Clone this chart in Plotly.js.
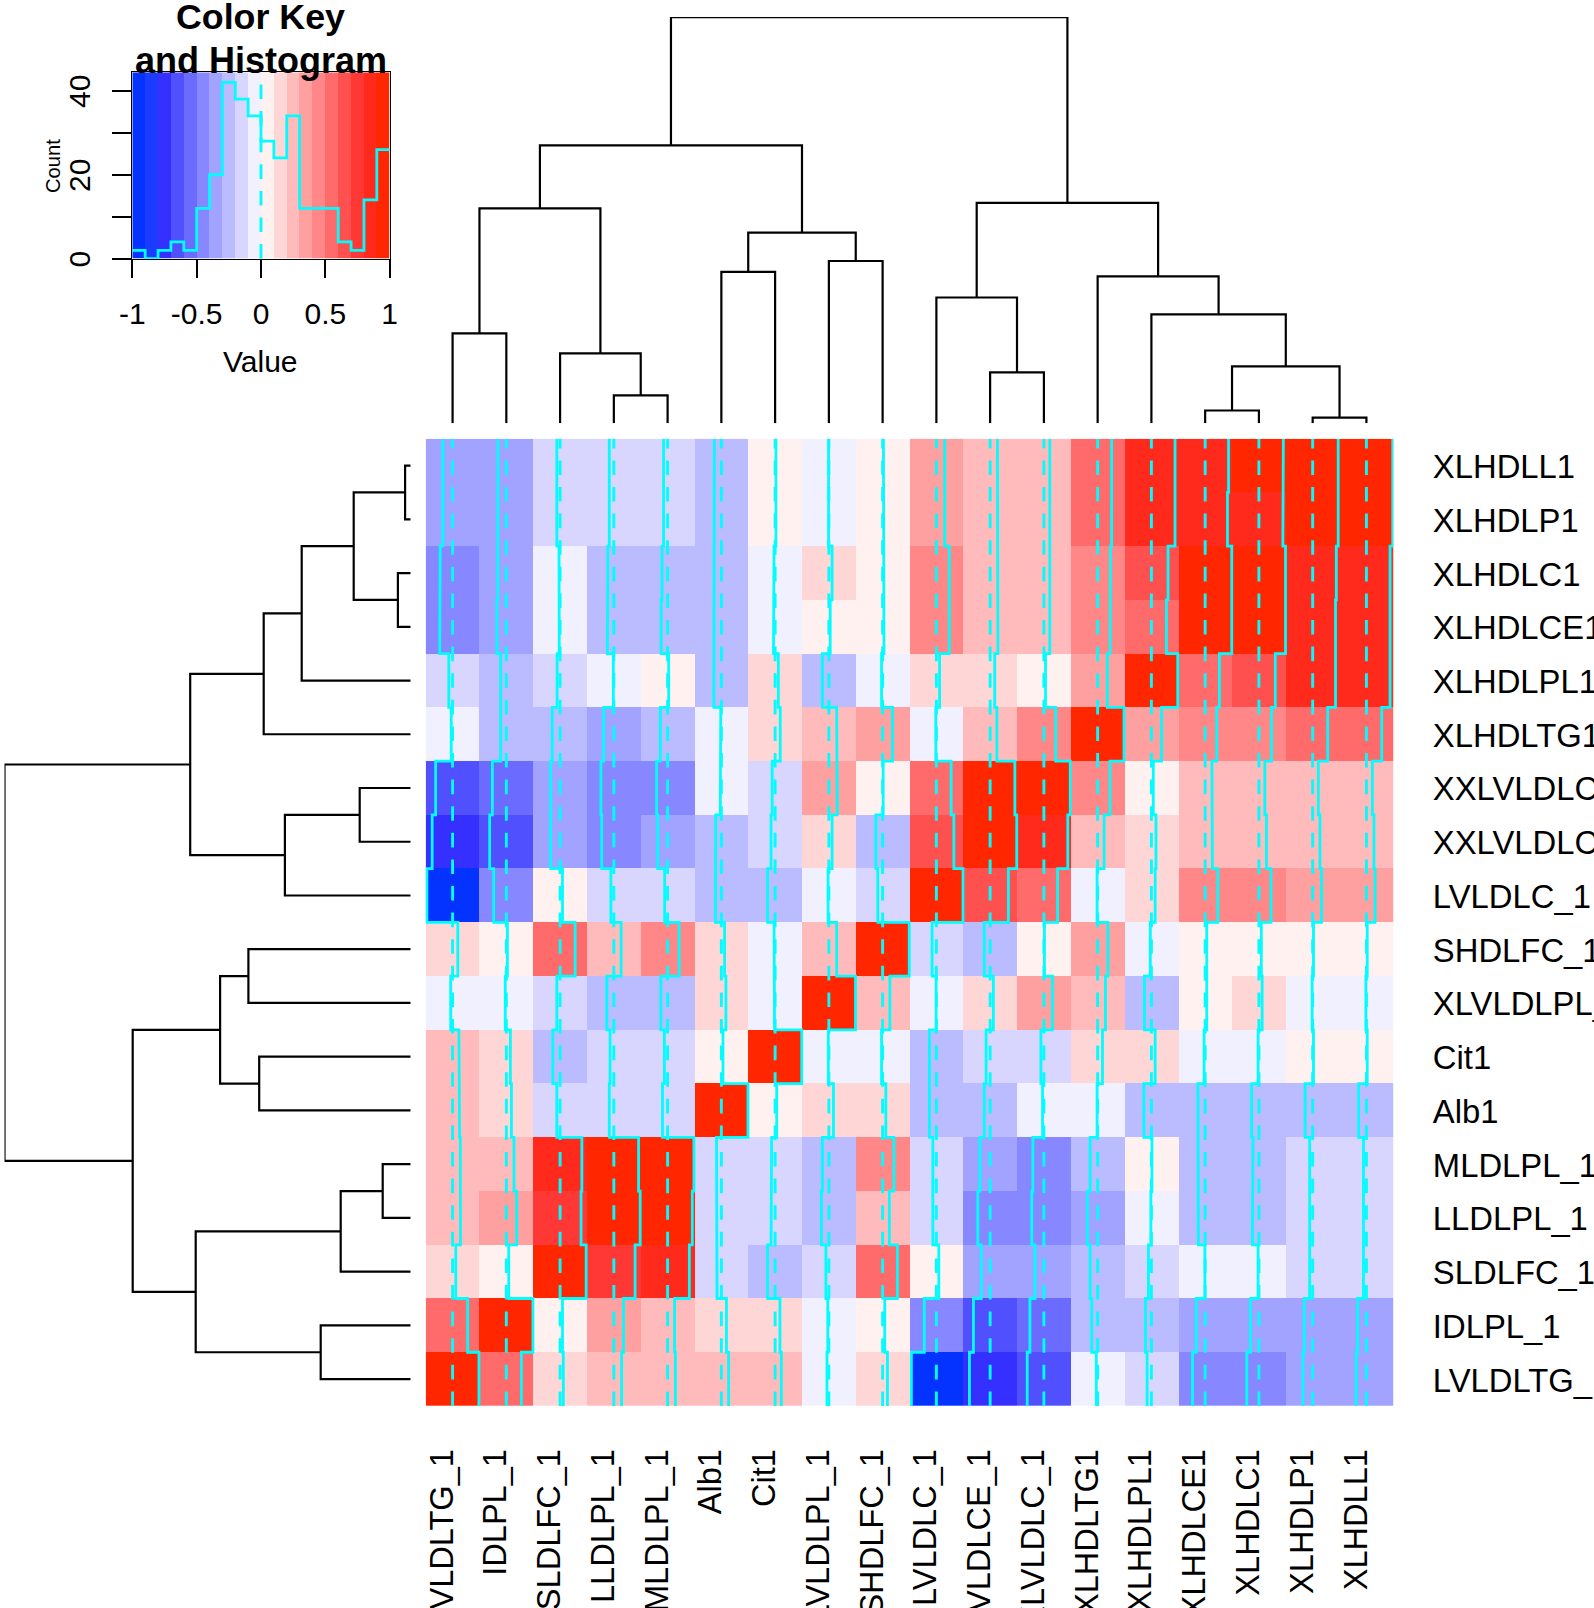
<!DOCTYPE html>
<html>
<head>
<meta charset="utf-8">
<script src="https://cdn.plot.ly/plotly-3.0.1.min.js"></script>
<style>html,body{margin:0;padding:0;background:#fff;overflow:hidden}#chart{width:1594px;height:1608px}</style>
</head>
<body>
<div id="chart"></div>
<script>
// ---------- data ----------
const columnLabels = ["LVLDLTG_1","IDLPL_1","SLDLFC_1","LLDLPL_1","MLDLPL_1","Alb1","Cit1","XLVLDLPL_1","SHDLFC_1","LVLDLC_1","XXLVLDLCE_1","XXLVLDLC_1","XLHDLTG1","XLHDLPL1","XLHDLCE1","XLHDLC1","XLHDLP1","XLHDLL1"];
const rowLabels = ["XLHDLL1","XLHDLP1","XLHDLC1","XLHDLCE1","XLHDLPL1","XLHDLTG1","XXLVLDLC_1","XXLVLDLCE_1","LVLDLC_1","SHDLFC_1","XLVLDLPL_1","Cit1","Alb1","MLDLPL_1","LLDLPL_1","SLDLFC_1","IDLPL_1","LVLDLTG_1"];
const correlations = [
 [-.36,-.31,-.12,-.17,-.15,-.26,.03,-.01,.03,.31,.27,.22,.52,.88,.87,.91,.95,.98],
 [-.36,-.31,-.12,-.17,-.15,-.26,.03,-.01,.03,.31,.27,.22,.52,.88,.83,.89,.95,.98],
 [-.46,-.32,-.04,-.22,-.21,-.26,-.04,.12,.05,.48,.28,.22,.48,.62,.99,.99,.88,.88],
 [-.48,-.35,-.03,-.24,-.24,-.26,-.06,.05,.05,.48,.29,.22,.46,.56,.99,.99,.85,.86],
 [-.14,-.21,-.11,-.02,.04,-.28,.12,-.24,-.04,.12,.17,.06,.36,.98,.53,.61,.85,.88],
 [-.05,-.21,-.29,-.38,-.27,-.02,.19,.29,.37,-.02,.25,.44,.98,.38,.43,.47,.56,.57],
 [-.63,-.52,-.35,-.48,-.41,-.04,-.11,.31,.02,.55,.92,.98,.46,.07,.25,.22,.21,.22],
 [-.76,-.62,-.35,-.45,-.37,-.21,-.15,.12,-.25,.65,.99,.89,.24,.17,.27,.28,.27,.28],
 [-.955,-.47,.09,-.11,-.11,-.22,-.28,-.03,-.18,.99,.68,.51,-.02,.14,.47,.45,.33,.32],
 [.195,.04,.56,.27,.43,.12,-.04,.29,.99,-.16,-.22,.02,.38,-.04,.06,.09,.03,.03],
 [-.07,-.04,-.12,-.26,-.25,.17,-.02,.99,.27,-.01,.12,.32,.29,-.26,.06,.12,-.02,-.02],
 [.235,.15,-.27,-.14,-.12,.06,.99,-.02,-.04,-.26,-.15,-.11,.18,.14,-.04,-.03,.03,.03],
 [.26,.19,-.12,-.17,-.19,.99,.06,.17,.12,-.26,-.22,-.05,-.02,-.28,-.27,-.27,-.28,-.29],
 [.285,.285,.81,.92,.98,-.18,-.13,-.24,.42,-.13,-.38,-.41,-.28,.02,-.25,-.22,-.11,-.11],
 [.295,.385,.78,.98,.92,-.18,-.15,-.28,.25,-.13,-.46,-.45,-.38,-.02,-.25,-.24,-.12,-.11],
 [.12,.09,.97,.79,.81,-.16,-.28,-.11,.55,.09,-.33,-.33,-.28,-.11,-.01,-.03,-.11,-.11],
 [.56,.99,.09,.36,.26,.19,.18,-.04,.08,-.45,-.62,-.52,-.22,-.22,-.33,-.31,-.31,-.33],
 [.98,.56,.12,.29,.29,.27,.23,-.07,.18,-.93,-.77,-.62,-.05,-.16,-.47,-.45,-.36,-.38]
];
// clustering tree over column positions: [left, right, merge height]
const dendrogram = [
 [[[1,2,90],[3,[4,5,28],70],215],[[6,7,151.5],[8,9,162.3],190.6],278],
 [[10,[11,12,51],125.8],[13,[14,[[15,16,12.8],[17,18,5.6],57],109],147],220.5],
 406.2];
const keyBreaks = [-1,-.9,-.8,-.7,-.6,-.5,-.4,-.3,-.2,-.1,0,.1,.2,.3,.4,.5,.6,.7,.8,.9,1];
const keyMids = [-.95,-.85,-.75,-.65,-.55,-.45,-.35,-.25,-.15,-.05,.05,.15,.25,.35,.45,.55,.65,.75,.85,.95];
const histCounts = [2,0,2,4,2,12,20,42,38,34,28,24,34,12,12,12,4,2,14,26];
const palette = ["#0432ff","#1b3cff","#3530ff","#5050ff","#6b6bff","#8787ff","#a2a2ff","#bbbbff","#d8d6ff","#f1f0ff","#fff1f0","#ffd6d6","#ffbbbb","#ffa0a0","#ff8787","#ff6b6b","#ff5050","#ff3735","#ff2a1b","#ff2600"];

// ---------- geometry ----------
const W = 1594, H = 1608;
const dx = (a,b)=>[a/W,b/W];
const dy = (top,bottom)=>[1-bottom/H,1-top/H];
const heatX = dx(425.7,1393.3), heatY = dy(438.7,1406);
const labelX = dx(415.2,1382.8);
const FONT = "Liberation Sans, Arial, sans-serif";
const CYAN = "#00fdff";
const CLEAR = "rgba(0,0,0,0)";

const n = columnLabels.length;
const idx = Array.from({length:n},(_,i)=>i+1);
const colorscale = [];
palette.forEach((c,i)=>{colorscale.push([i/20,c]);colorscale.push([(i+1)/20,c]);});

// solid trace lines and dashed centre lines
const tx=[],ty=[],cx=[],cy=[];
for(let j=0;j<n;j++){
  for(let i=0;i<n;i++){
    const off = correlations[i][j]/2;
    tx.push(j+1+off,j+1+off); ty.push(i+.5,i+1.5);
  }
  tx.push(null);ty.push(null);
  cx.push(j+1,j+1,null); cy.push(n+.5,.5,null);
}
// dendrogram segments
const dpos=[],dh=[];
function walk(node){
  if(typeof node==="number") return {p:node,h:0};
  const l=walk(node[0]), r=walk(node[1]), h=node[2];
  dpos.push(l.p,l.p,r.p,r.p,null); dh.push(l.h,h,h,r.h,null);
  return {p:(l.p+r.p)/2,h};
}
walk(dendrogram);
const rowPos = dpos.map(p=>p===null?null:n+1-p);
// histogram step
const hx=[],hy=[];
histCounts.forEach((c,i)=>{hx.push(keyBreaks[i],keyBreaks[i+1]);hy.push(c,c);});
const keyTop = 44.4;

const data = [
 {type:"heatmap",x:idx,y:idx,z:correlations,zmin:-1,zmax:1,colorscale,showscale:false,hoverinfo:"skip",xaxis:"x",yaxis:"y"},
 {type:"scatter",mode:"lines",x:cx,y:cy,line:{color:CYAN,width:2.9,dash:"14.6px,12px"},cliponaxis:false,hoverinfo:"skip",xaxis:"x",yaxis:"y"},
 {type:"scatter",mode:"lines",x:tx,y:ty,line:{color:CYAN,width:2.8},cliponaxis:false,hoverinfo:"skip",xaxis:"x",yaxis:"y"},
 {type:"scatter",mode:"lines",x:dpos,y:dh,line:{color:"#000",width:2.2},cliponaxis:false,hoverinfo:"skip",xaxis:"x2",yaxis:"y2"},
 {type:"scatter",mode:"lines",x:dh,y:rowPos,line:{color:"#000",width:2.2},cliponaxis:false,hoverinfo:"skip",xaxis:"x3",yaxis:"y3"},
 {type:"heatmap",x:keyBreaks,y:[0,keyTop],z:[keyMids],zmin:-1,zmax:1,colorscale,showscale:false,hoverinfo:"skip",xaxis:"x4",yaxis:"y4"},
 {type:"scatter",mode:"lines",x:[0,0],y:[0,42],line:{color:CYAN,width:2.9,dash:"14.6px,12px"},hoverinfo:"skip",xaxis:"x4",yaxis:"y4"},
 {type:"scatter",mode:"lines",x:hx,y:hy,line:{color:CYAN,width:2.8},cliponaxis:false,hoverinfo:"skip",xaxis:"x4",yaxis:"y4"},
 // carrier for the column-label axis, which sits a little left of the cell centres
 {type:"scatter",mode:"lines",x:idx,y:idx,opacity:0,line:{width:0,color:CLEAR},hoverinfo:"skip",xaxis:"x5",yaxis:"y"}
];
const hidden = {visible:false,showgrid:false,zeroline:false,fixedrange:true};
const layout = {
 width:W,height:H,paper_bgcolor:"#fff",plot_bgcolor:CLEAR,showlegend:false,
 margin:{l:0,r:0,t:0,b:0,pad:0},
 font:{family:FONT,color:"#000"},
 title:{text:"Color Key",x:260.5/W,xanchor:"center",xref:"paper",yref:"container",y:1-29/H,yanchor:"bottom",pad:{t:0,b:0},font:{family:FONT,size:35.8,weight:700,color:"#000"}},
 xaxis:{domain:heatX,range:[.5,n+.5],showticklabels:false,ticks:"",showgrid:false,zeroline:false,showline:false,anchor:"y",automargin:false,fixedrange:true},
 xaxis5:{domain:labelX,range:[.5,n+.5],anchor:"y",tickmode:"array",tickvals:idx,ticktext:columnLabels,tickangle:-90,ticks:"outside",ticklen:29,tickcolor:CLEAR,tickwidth:1,tickfont:{size:32.6,family:FONT,color:"#000"},showgrid:false,zeroline:false,showline:false,automargin:false,fixedrange:true},
 yaxis:{domain:heatY,range:[n+.5,.5],side:"right",tickmode:"array",tickvals:idx,ticktext:rowLabels,ticks:"outside",ticklen:32,tickcolor:CLEAR,tickwidth:1,ticklabelshift:-1,tickfont:{size:32.8,family:FONT,color:"#000"},showgrid:false,zeroline:false,showline:false,anchor:"x",automargin:false,fixedrange:true},
 xaxis2:{...hidden,domain:heatX,range:[.5,n+.5],anchor:"y2"},
 yaxis2:{...hidden,domain:dy(17.1,423.3),range:[0,406.2],anchor:"x2"},
 xaxis3:{...hidden,domain:dx(4.5,410.7),range:[406.2,0],anchor:"y3"},
 yaxis3:{...hidden,domain:heatY,range:[n+.5,.5],anchor:"x3"},
 xaxis4:{domain:dx(132.3,389.7),range:[-1,1],anchor:"y4",tickmode:"array",tickvals:[-1,-.5,0,.5,1],ticktext:["-1","-0.5","0","0.5","1"],ticks:"outside",ticklen:18,tickwidth:2,tickcolor:"#000",ticklabelstandoff:10,tickfont:{size:30,family:FONT,color:"#000"},showline:true,linecolor:"#000",linewidth:1.5,mirror:true,showgrid:false,zeroline:false,automargin:false,fixedrange:true},
 yaxis4:{domain:dy(72.3,258.7),range:[0,keyTop],anchor:"x4",tickmode:"array",tickvals:[0,10,20,30,40],ticktext:["0","","20","","40"],tickangle:-90,ticks:"outside",ticklen:19,tickwidth:2,tickcolor:"#000",ticklabelstandoff:10,ticklabelshift:5,tickfont:{size:30,family:FONT,color:"#000"},showline:true,linecolor:"#000",linewidth:1,mirror:true,showgrid:false,zeroline:false,automargin:false,fixedrange:true},
 annotations:[
  {xref:"paper",yref:"paper",x:260.5/W,y:1-70/H,xanchor:"center",yanchor:"bottom",yshift:-13,text:"and Histogram",showarrow:false,font:{family:FONT,size:36,weight:700,color:"#000"}},
  {xref:"paper",yref:"paper",x:260.5/W,y:1-361/H,xanchor:"center",yanchor:"middle",text:"Value",showarrow:false,font:{family:FONT,size:30,color:"#000"}},
  {xref:"paper",yref:"paper",x:53/W,y:1-166/H,xanchor:"center",yanchor:"middle",text:"Count",textangle:-90,showarrow:false,font:{family:FONT,size:20.2,color:"#000"}}
 ]
};
Plotly.newPlot("chart",data,layout,{displayModeBar:false,staticPlot:true,responsive:false});
</script>
</body>
</html>
